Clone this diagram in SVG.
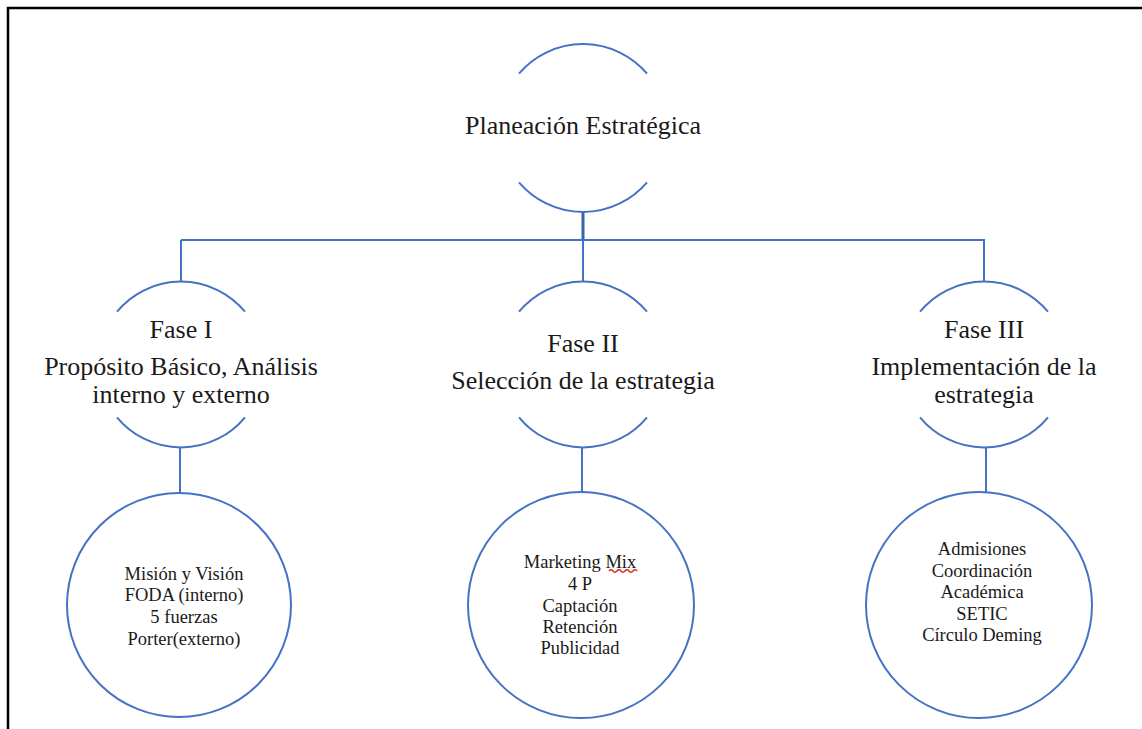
<svg xmlns="http://www.w3.org/2000/svg" width="1142" height="729" viewBox="0 0 1142 729">
  <style>
    .frame { stroke: #000; stroke-width: 2.5; fill: none; }
    .arc { stroke: #4472C4; stroke-width: 2; fill: none; }
    .ring { stroke: #4472C4; stroke-width: 2; fill: #fff; }
    .link { stroke: #4472C4; stroke-width: 2; fill: none; }
    .trunk { stroke: #3A63AE; stroke-width: 3; fill: none; }
    text { font-family: 'Liberation Serif', 'DejaVu Serif', 'Noto Serif', serif; fill: #1a1a1a; text-anchor: middle; }
    .big { font-size: 26px; }
    .small { font-size: 18.5px; }
    .squiggle { stroke: #E02020; stroke-width: 1.3; fill: none; }
  </style>

  <!-- page frame (top and left edges only) -->
  <path class="frame" d="M 8 729 L 8 8 L 1142 8"/>

  <!-- connectors -->
  <g id="connectors">
    <line class="trunk" x1="583" y1="212" x2="583" y2="240"/>
    <line class="link" x1="181" y1="240" x2="985" y2="240"/>
    <line class="link" x1="181" y1="240" x2="181" y2="282"/>
    <line class="link" x1="583" y1="240" x2="583" y2="282"/>
    <line class="link" x1="984" y1="240" x2="984" y2="282"/>
    <line class="link" x1="180" y1="447" x2="180" y2="493"/>
    <line class="link" x1="582" y1="447" x2="582" y2="492"/>
    <line class="link" x1="986" y1="447" x2="986" y2="492"/>
  </g>

  <!-- root: split circle -->
  <g id="node-planeacion" font-family="Liberation Serif, serif">
    <path class="arc" d="M 519 73.6 A 84 84 0 0 1 647 73.6"/>
    <path class="arc" d="M 519 182.4 A 84 84 0 0 0 647 182.4"/>
    <text class="big" x="583" y="134">Planeación Estratégica</text>
  </g>

  <!-- phase nodes -->
  <g id="node-fase1">
    <path class="arc" d="M 117 311.7 A 83 83 0 0 1 245 311.7"/>
    <path class="arc" d="M 117 417.3 A 83 83 0 0 0 245 417.3"/>
    <text class="big" x="181" y="338">Fase I</text>
    <text class="big" x="181" y="375">Propósito Básico, Análisis</text>
    <text class="big" x="181" y="403">interno y externo</text>
  </g>

  <g id="node-fase2">
    <path class="arc" d="M 519 311.7 A 83 83 0 0 1 647 311.7"/>
    <path class="arc" d="M 519 417.3 A 83 83 0 0 0 647 417.3"/>
    <text class="big" x="583" y="352">Fase II</text>
    <text class="big" x="583" y="389">Selección de la estrategia</text>
  </g>

  <g id="node-fase3">
    <path class="arc" d="M 920 311.7 A 83 83 0 0 1 1048 311.7"/>
    <path class="arc" d="M 920 417.3 A 83 83 0 0 0 1048 417.3"/>
    <text class="big" x="984" y="338">Fase III</text>
    <text class="big" x="984" y="375">Implementación de la</text>
    <text class="big" x="984" y="403">estrategia</text>
  </g>

  <!-- detail circles -->
  <g id="node-detalle1">
    <circle class="ring" cx="179" cy="605" r="112"/>
    <text class="small" x="184" y="580">Misión y Visión</text>
    <text class="small" x="184" y="601">FODA (interno)</text>
    <text class="small" x="184" y="623">5 fuerzas</text>
    <text class="small" x="184" y="645">Porter(externo)</text>
  </g>

  <g id="node-detalle2">
    <circle class="ring" cx="581" cy="605" r="113"/>
    <text class="small" x="580" y="568">Marketing Mix</text>
    <path class="squiggle" d="M 609 571 q 2 -2.5 4 0 t 4 0 t 4 0 t 4 0 t 4 0 t 4 0 t 4 0"/>
    <text class="small" x="580" y="590">4 P</text>
    <text class="small" x="580" y="612">Captación</text>
    <text class="small" x="580" y="633">Retención</text>
    <text class="small" x="580" y="654">Publicidad</text>
  </g>

  <g id="node-detalle3">
    <circle class="ring" cx="979" cy="605" r="113"/>
    <text class="small" x="982" y="555">Admisiones</text>
    <text class="small" x="982" y="577">Coordinación</text>
    <text class="small" x="982" y="598">Académica</text>
    <text class="small" x="982" y="620">SETIC</text>
    <text class="small" x="982" y="641">Círculo Deming</text>
  </g>
</svg>
